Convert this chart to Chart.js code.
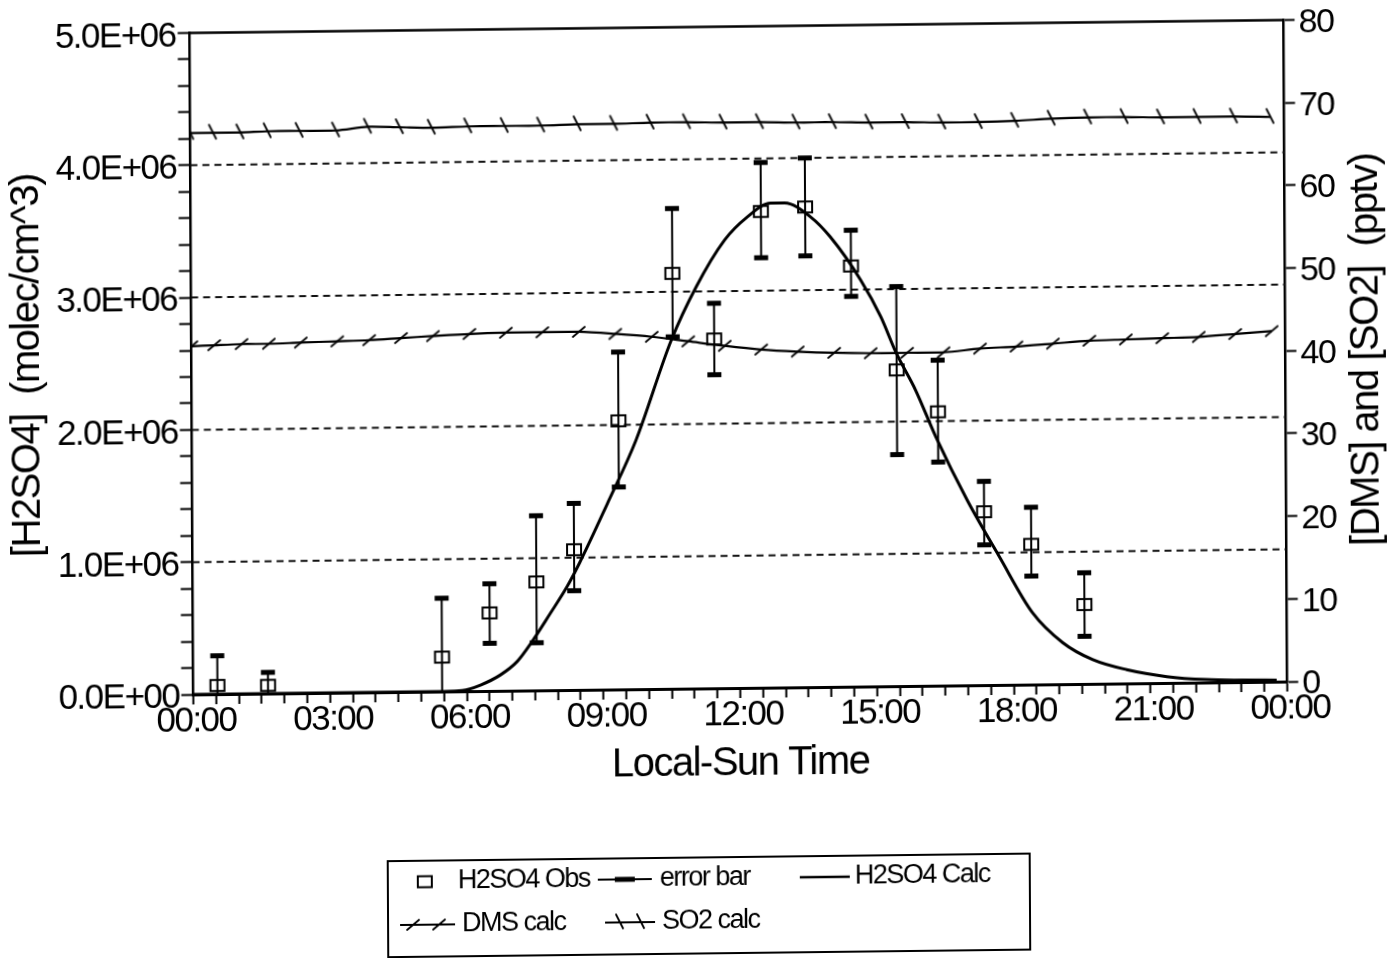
<!DOCTYPE html>
<html>
<head>
<meta charset="utf-8">
<script src="https://cdn.jsdelivr.net/npm/chart.js@4.4.1/dist/chart.umd.min.js"></script>
<style>
  html, body { margin: 0; padding: 0; background: #fff; overflow: hidden; }
  #wrap {
    width: 1397px; height: 958px;
    transform-origin: 738.5px 357px;
    transform: matrix(1, -0.0118, 0.0055, 1, 0, 0);
  }
  canvas { display: block; }
</style>
</head>
<body>
<div id="wrap"><canvas id="chart" width="1397" height="958"></canvas></div>
<script>
// ---- Observed H2SO4 (molec/cm^3) against local-sun hour, with error limits ----
const obsHours  = [0.53, 1.64, 5.46, 6.51, 7.54, 8.37, 9.36, 10.56, 11.47, 12.51, 13.48, 14.48, 15.47, 16.37, 17.37, 18.40, 19.56];
const obsValues = [6.6e4, 6.2e4, 2.6e5, 5.9e5, 8.2e5, 1.06e6, 2.03e6, 3.14e6, 2.64e6, 3.60e6, 3.63e6, 3.18e6, 2.39e6, 2.07e6, 1.31e6, 1.06e6, 6.0e5];
const obsLow    = [-1.6e5, -4.0e4, -1.9e5, 3.6e5, 3.6e5, 7.5e5, 1.53e6, 2.66e6, 2.37e6, 3.25e6, 3.26e6, 2.95e6, 1.75e6, 1.69e6, 1.06e6, 8.2e5, 3.6e5];
const obsHigh   = [2.9e5, 1.6e5, 7.05e5, 8.1e5, 1.32e6, 1.41e6, 2.55e6, 3.63e6, 2.91e6, 3.97e6, 4.00e6, 3.45e6, 3.02e6, 2.46e6, 1.54e6, 1.34e6, 8.4e5];

// ---- Model H2SO4 (molec/cm^3) ----
const calcHours  = [0, 3, 5.5, 5.9, 6.3, 6.74, 7.11, 7.4, 7.84, 8.21, 8.49, 9.1, 9.74, 10.53, 11.08, 11.71, 12.21, 12.72, 13.03, 13.6, 14.03, 14.69, 15.13, 15.46, 15.88, 16.32, 17.0, 17.7, 18.42, 19.08, 19.74, 20.48, 21.36, 22.23, 23.0, 23.77];
const calcValues = [0, 0, 0, 5e3, 4.5e4, 1.2e5, 2.2e5, 3.5e5, 5.8e5, 7.8e5, 9.6e5, 1.40e6, 1.88e6, 2.636e6, 3.035e6, 3.387e6, 3.559e6, 3.663e6, 3.662e6, 3.554e6, 3.401e6, 3.073e6, 2.792e6, 2.519e6, 2.237e6, 1.881e6, 1.40e6, 9.69e5, 5.43e5, 3.14e5, 1.82e5, 1.04e5, 4.8e4, 2.2e4, 1.5e4, 1.2e4];

// ---- Model DMS and SO2 (pptv) ----
const modelHours = [0, 0.5, 1.1, 1.7, 2.4, 3.2, 3.9, 4.6, 5.3, 6.1, 6.9, 7.7, 8.5, 9.3, 10.1, 10.9, 11.7, 12.5, 13.3, 14.1, 14.9, 15.7, 16.5, 17.3, 18.1, 18.9, 19.7, 20.5, 21.3, 22.1, 22.9, 23.7];
const dmsValues  = [42.1, 42.2, 42.3, 42.3, 42.4, 42.5, 42.6, 42.8, 43.0, 43.2, 43.3, 43.3, 43.3, 43.0, 42.6, 42.0, 41.4, 40.9, 40.6, 40.4, 40.3, 40.3, 40.3, 40.7, 40.9, 41.2, 41.5, 41.6, 41.7, 41.8, 42.1, 42.4];
const so2Values  = [67.9, 67.9, 67.9, 68.0, 68.0, 68.0, 68.4, 68.3, 68.2, 68.3, 68.3, 68.3, 68.4, 68.4, 68.5, 68.5, 68.4, 68.4, 68.3, 68.3, 68.2, 68.2, 68.1, 68.1, 68.2, 68.4, 68.5, 68.5, 68.4, 68.4, 68.4, 68.3];

// ---- Axis ticks ----
const xTickHours  = [0, 3, 6, 9, 12, 15, 18, 21, 24];
const xTickLabels = ['00:00', '03:00', '06:00', '09:00', '12:00', '15:00', '18:00', '21:00', '00:00'];
const yTickValues = [0, 1e6, 2e6, 3e6, 4e6, 5e6];
const yTickLabels = ['0.0E+00', '1.0E+06', '2.0E+06', '3.0E+06', '4.0E+06', '5.0E+06'];
const gridValues  = [1e6, 2e6, 3e6, 4e6];
const y2TickValues = [0, 10, 20, 30, 40, 50, 60, 70, 80];

const legendLabels = ['H2SO4 Obs', 'error bar', 'H2SO4 Calc', 'DMS calc', 'SO2 calc'];

const FONT = "'Liberation Sans', Arial, Helvetica, sans-serif";
Chart.defaults.font.family = FONT;
Chart.defaults.color = '#000';

// small marker images
function makeMark(w, h, draw) {
  const c = document.createElement('canvas');
  c.width = w; c.height = h;
  const g = c.getContext('2d');
  g.strokeStyle = '#000';
  g.lineCap = 'round';
  draw(g);
  return c;
}
const squareMark = makeMark(18, 15, g => { g.lineWidth = 2; g.strokeRect(2, 2, 14, 11); });
const dmsMark = makeMark(16, 14, g => { g.lineWidth = 1.8; g.beginPath(); g.moveTo(2, 12); g.lineTo(14, 2); g.stroke(); });
const so2Mark = makeMark(12, 20, g => { g.lineWidth = 1.8; g.beginPath(); g.moveTo(2, 2); g.lineTo(9, 16); g.stroke(); });

const pairs = (xs, ys) => xs.map((x, i) => ({ x, y: ys[i] }));

// condensed lettering for all canvas text
const lettering = {
  id: 'lettering',
  beforeDraw(chart) { chart.ctx.letterSpacing = '-1.5px'; }
};

// dashed reference lines and the top frame line
const frame = {
  id: 'frame',
  beforeDatasetsDraw(chart) {
    const { ctx, chartArea: a, scales: { y } } = chart;
    ctx.save();
    ctx.strokeStyle = '#111';
    ctx.lineWidth = 2;
    ctx.setLineDash([7, 5]);
    gridValues.forEach(v => {
      const py = y.getPixelForValue(v);
      ctx.beginPath(); ctx.moveTo(a.left, py); ctx.lineTo(a.right, py); ctx.stroke();
    });
    ctx.setLineDash([]);
    ctx.strokeStyle = '#000';
    ctx.lineWidth = 2.5;
    ctx.beginPath(); ctx.moveTo(a.left, a.top); ctx.lineTo(a.right, a.top); ctx.stroke();
    ctx.restore();
  }
};

// vertical error bars with heavy caps
const errorBars = {
  id: 'errorBars',
  afterDatasetsDraw(chart) {
    const { ctx, chartArea: a, scales: { x, y } } = chart;
    ctx.save();
    ctx.beginPath(); ctx.rect(a.left, a.top, a.right - a.left, a.bottom - a.top); ctx.clip();
    ctx.strokeStyle = '#000'; ctx.fillStyle = '#000'; ctx.lineWidth = 2;
    obsHours.forEach((h, i) => {
      const px = x.getPixelForValue(h);
      const hi = y.getPixelForValue(obsHigh[i]);
      const lo = y.getPixelForValue(obsLow[i]);
      ctx.beginPath(); ctx.moveTo(px, hi); ctx.lineTo(px, lo); ctx.stroke();
      ctx.fillRect(px - 7, hi - 2.5, 14, 5);
      ctx.fillRect(px - 7, lo - 2.5, 14, 5);
    });
    ctx.restore();
  }
};

// right-hand axis title (reads bottom to top) and the boxed key
const extras = {
  id: 'extras',
  afterDraw(chart) {
    const ctx = chart.ctx;
    ctx.save();
    ctx.fillStyle = '#000';
    ctx.font = `40px ${FONT}`;
    ctx.textAlign = 'center'; ctx.textBaseline = 'middle';
    ctx.translate(1367, 357);
    ctx.rotate(-Math.PI / 2);
    ctx.fillText('[DMS] and [SO2]  (pptv)', 0, 0);
    ctx.restore();

    ctx.save();
    ctx.strokeStyle = '#000'; ctx.fillStyle = '#000';
    ctx.lineWidth = 2;
    ctx.strokeRect(385, 857, 642, 96);
    ctx.font = `27px ${FONT}`;
    ctx.textAlign = 'left'; ctx.textBaseline = 'middle';
    const r1 = 878, r2 = 921;
    const seg = (x0, x1, yy, w) => { ctx.lineWidth = w; ctx.beginPath(); ctx.moveTo(x0, yy); ctx.lineTo(x1, yy); ctx.stroke(); };

    ctx.drawImage(squareMark, 422 - 9, r1 - 7.5);
    ctx.fillText(legendLabels[0], 455, r1);

    seg(595, 649, r1, 2);
    ctx.fillRect(612, r1 - 2.5, 20, 5);
    ctx.fillText(legendLabels[1], 657, r1);

    seg(797, 847, r1, 2.5);
    ctx.fillText(legendLabels[2], 852, r1);

    seg(397, 452, r2, 2);
    ctx.drawImage(dmsMark, 410 - 8, r2 - 7);
    ctx.drawImage(dmsMark, 436 - 8, r2 - 7);
    ctx.fillText(legendLabels[3], 459, r2);

    seg(602, 652, r2, 2);
    ctx.drawImage(so2Mark, 617 - 6, r2 - 10);
    ctx.drawImage(so2Mark, 638 - 6, r2 - 10);
    ctx.fillText(legendLabels[4], 659, r2);
    ctx.restore();
  }
};

const near = (a, b, tol) => Math.abs(a - b) < tol;

new Chart(document.getElementById('chart'), {
  type: 'scatter',
  data: {
    datasets: [
      {
        label: 'H2SO4 Obs',
        data: pairs(obsHours, obsValues),
        yAxisID: 'y',
        pointStyle: squareMark,
        pointRadius: 7,
        showLine: false
      },
      {
        label: 'H2SO4 Calc',
        type: 'line',
        data: pairs(calcHours, calcValues),
        yAxisID: 'y',
        borderColor: '#000',
        borderWidth: 3,
        pointRadius: 0,
        cubicInterpolationMode: 'monotone',
        fill: false
      },
      {
        label: 'DMS calc',
        type: 'line',
        data: pairs(modelHours, dmsValues),
        yAxisID: 'y2',
        borderColor: '#000',
        borderWidth: 2.2,
        pointStyle: dmsMark,
        pointRadius: 6,
        tension: 0.3,
        fill: false
      },
      {
        label: 'SO2 calc',
        type: 'line',
        data: pairs(modelHours, so2Values),
        yAxisID: 'y2',
        borderColor: '#000',
        borderWidth: 2.2,
        pointStyle: so2Mark,
        pointRadius: 6,
        tension: 0.3,
        fill: false
      }
    ]
  },
  options: {
    responsive: false,
    animation: false,
    events: [],
    layout: { padding: { top: 26.5, left: 0, right: 0, bottom: 158 } },
    plugins: { legend: { display: false }, tooltip: { enabled: false } },
    scales: {
      x: {
        type: 'linear',
        position: 'bottom',
        min: 0, max: 24,
        afterFit(s) { s.height = 112; },
        ticks: {
          stepSize: 0.5,
          autoSkip: false,
          maxRotation: 0,
          padding: 0,
          labelOffset: 3,
          font: { size: 35, lineHeight: 1 },
          callback(v) {
            const i = xTickHours.findIndex(h => near(h, v, 1e-6));
            return i >= 0 ? xTickLabels[i] : '';
          }
        },
        grid: { display: true, drawOnChartArea: false, drawTicks: true, tickLength: 10, tickWidth: 2, tickColor: '#000' },
        border: { display: true, color: '#000', width: 3 },
        title: { display: true, text: 'Local-Sun Time', font: { size: 40 }, padding: { top: 0, bottom: 12 } }
      },
      y: {
        type: 'linear',
        position: 'left',
        min: 0, max: 5e6,
        afterFit(s) { s.width = 191.5; },
        ticks: {
          stepSize: 2e5,
          autoSkip: false,
          padding: 2,
          labelOffset: 3.5,
          font: { size: 35 },
          callback(v) {
            const i = yTickValues.findIndex(t => near(t, v, 1));
            return i >= 0 ? yTickLabels[i] : '';
          }
        },
        grid: { display: true, drawOnChartArea: false, drawTicks: true, tickLength: 12, tickWidth: 2, tickColor: '#000' },
        border: { display: true, color: '#000', width: 2.5 },
        title: { display: true, text: '[H2SO4]  (molec/cm^3)', font: { size: 40 }, padding: { top: 4, bottom: 0 } }
      },
      y2: {
        type: 'linear',
        position: 'right',
        min: 0, max: 80,
        afterFit(s) { s.width = 1397 - 1285.5; },
        afterBuildTicks(s) { s.ticks = y2TickValues.map(v => ({ value: v })); },
        ticks: {
          autoSkip: false,
          padding: 4,
          labelOffset: 3,
          font: { size: 34 },
          callback(v) { return String(v); }
        },
        grid: { display: true, drawOnChartArea: false, drawTicks: true, tickLength: 11, tickWidth: 2, tickColor: '#000' },
        border: { display: true, color: '#000', width: 2.5 },
        title: { display: false }
      }
    }
  },
  plugins: [lettering, frame, errorBars, extras]
});
</script>
</body>
</html>
